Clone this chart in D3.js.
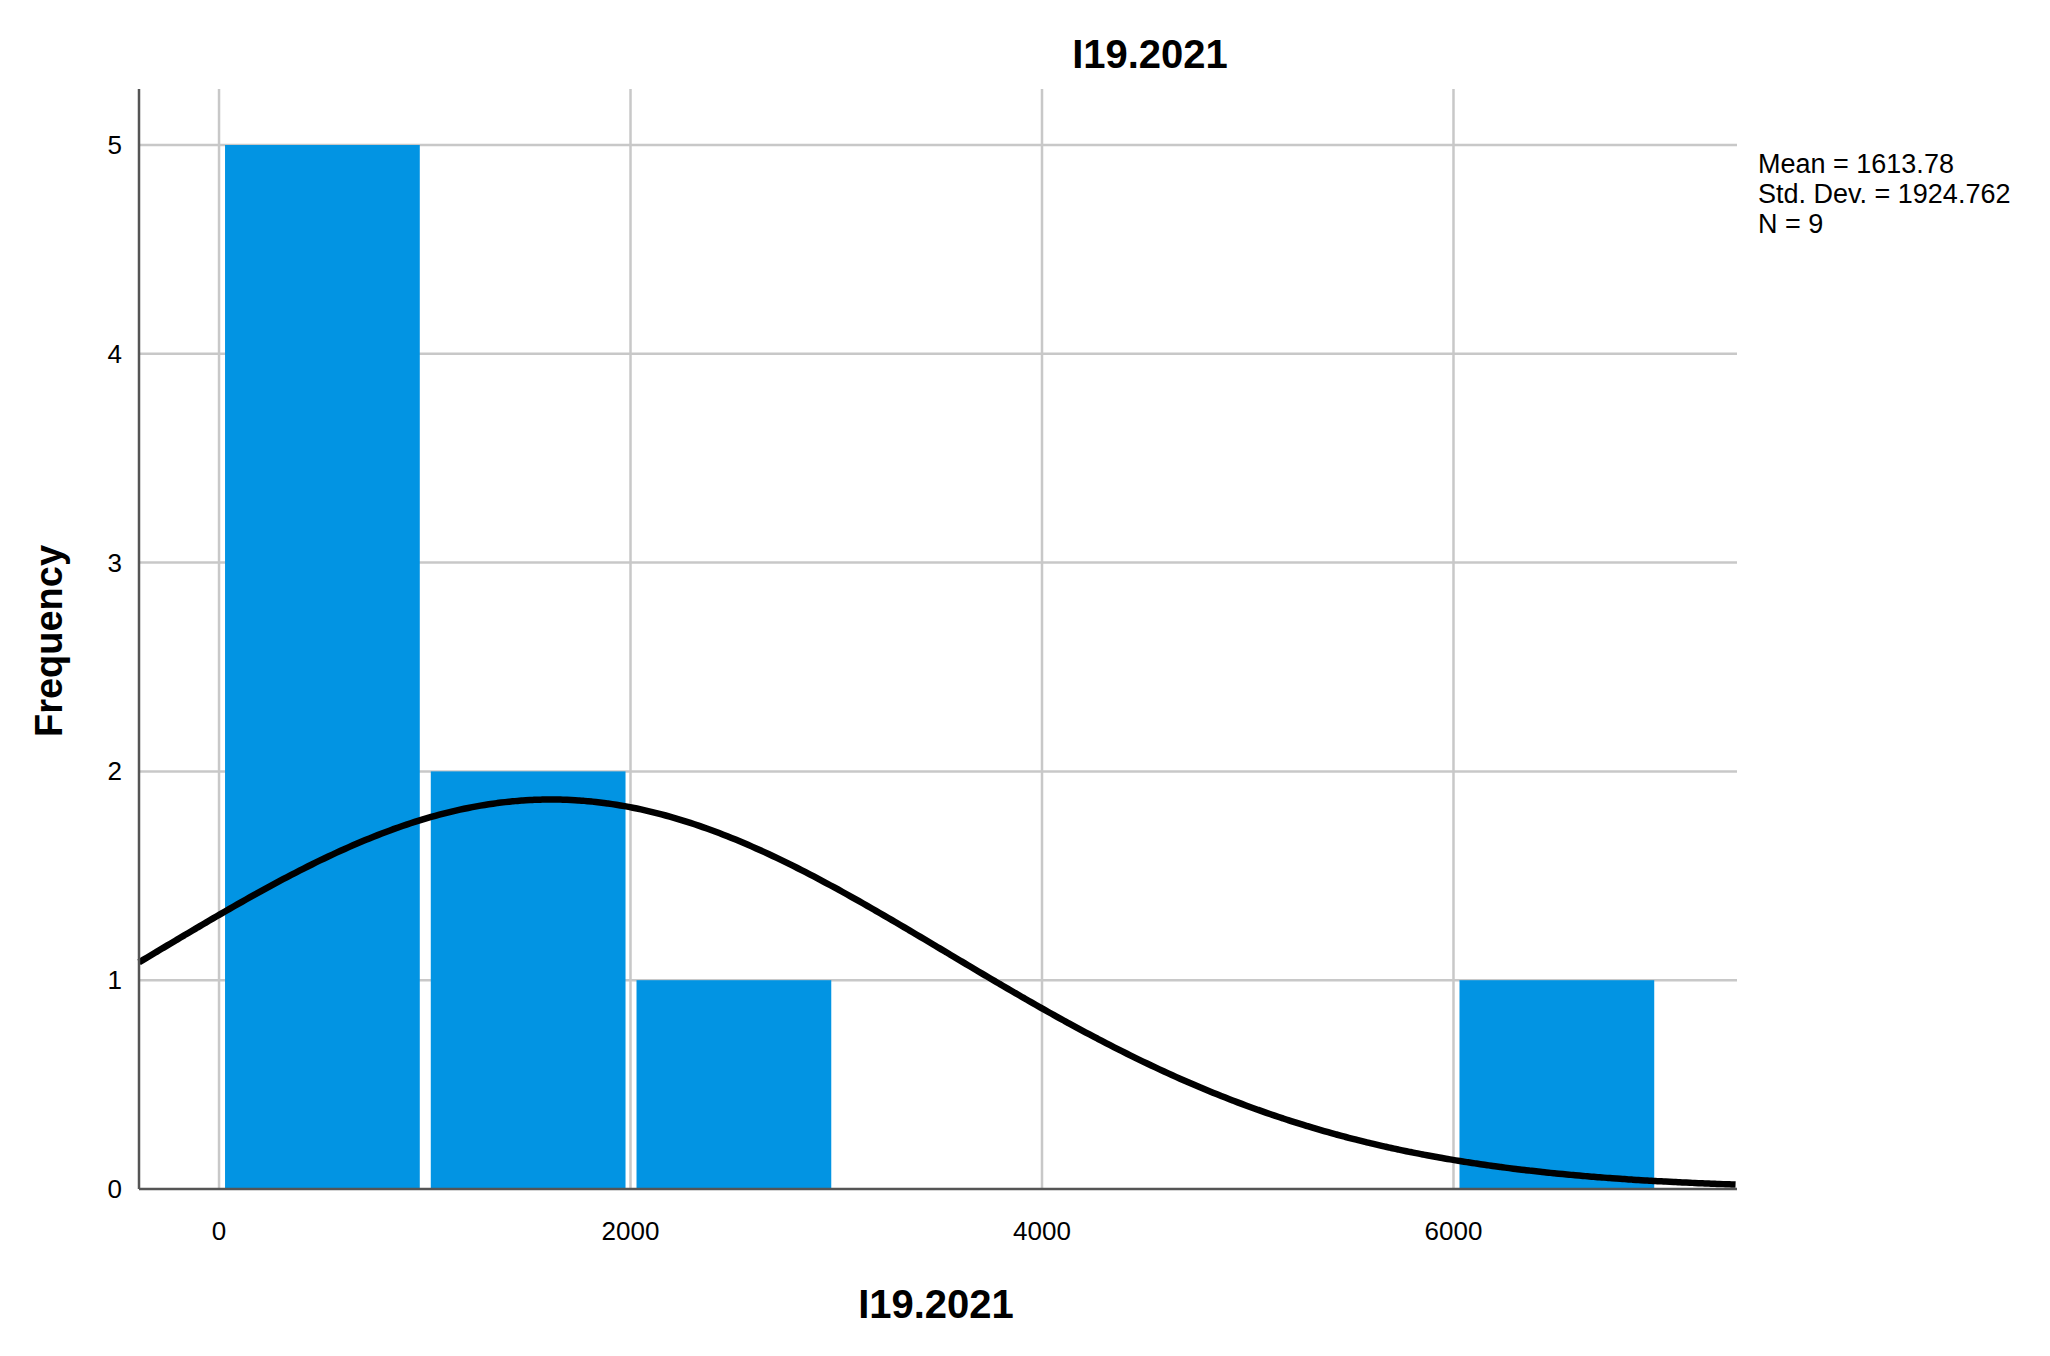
<!DOCTYPE html>
<html><head><meta charset="utf-8">
<script src="https://cdn.jsdelivr.net/npm/d3@7"></script>
<style>body{margin:0;background:#fff}</style></head>
<body><svg id="c" width="2050" height="1356"></svg>
<script>
const binStarts = [0, 1000, 2000, 6000];
const binCounts = [5, 2, 1, 1];
const binWidth = 1000;
const xTicks = [0, 2000, 4000, 6000];
const yTicks = [0, 1, 2, 3, 4, 5];
const mean = 1613.78, sd = 1924.762, n = 9;
const statLines = ["Mean = 1613.78", "Std. Dev. = 1924.762", "N = 9"];

const svg = d3.select("#c");
const L = 139, R = 1737, T = 89, B = 1189;
const x = d3.scaleLinear().domain([-389, 7378]).range([L, R]);
const y = d3.scaleLinear().domain([0, 5]).range([B, 145]);
const font = "Liberation Sans, Arial, sans-serif";

// grid
svg.append("g").selectAll("line").data(yTicks.slice(1)).join("line")
  .attr("x1", L).attr("x2", R).attr("y1", d => y(d)).attr("y2", d => y(d))
  .attr("stroke", "#c8c8c8").attr("stroke-width", 2.5);
svg.append("g").selectAll("line").data(xTicks).join("line")
  .attr("x1", d => x(d)).attr("x2", d => x(d)).attr("y1", T).attr("y2", B)
  .attr("stroke", "#c8c8c8").attr("stroke-width", 2.5);

// bars
svg.append("g").selectAll("rect").data(binStarts).join("rect")
  .attr("x", (d) => x(d) + 6)
  .attr("width", d => x(d + binWidth) - x(d) - 11)
  .attr("y", (d, i) => y(binCounts[i]))
  .attr("height", (d, i) => B - y(binCounts[i]))
  .attr("fill", "#0294e3");

// normal curve
const xs = d3.range(-389, 7379, 20);
const pdf = v => n * binWidth / (sd * Math.sqrt(2 * Math.PI)) * Math.exp(-0.5 * ((v - mean) / sd) ** 2);
svg.append("path").datum(xs)
  .attr("d", d3.line().x(d => x(d)).y(d => y(pdf(d))).curve(d3.curveBasis))
  .attr("fill", "none").attr("stroke", "#000").attr("stroke-width", 6.5);

// axes lines
svg.append("line").attr("x1", L).attr("x2", L).attr("y1", T).attr("y2", B).attr("stroke", "#555").attr("stroke-width", 2.5);
svg.append("line").attr("x1", L).attr("x2", R).attr("y1", B).attr("y2", B).attr("stroke", "#555").attr("stroke-width", 2.5);

// tick labels
svg.append("g").selectAll("text").data(yTicks).join("text")
  .attr("x", 122).attr("y", d => y(d) + 9).attr("text-anchor", "end")
  .attr("font-family", font).attr("font-size", 26).text(d => d);
svg.append("g").selectAll("text").data(xTicks).join("text")
  .attr("x", d => x(d)).attr("y", 1240).attr("text-anchor", "middle")
  .attr("font-family", font).attr("font-size", 26).text(d => d);

// titles
svg.append("text").attr("x", 1150).attr("y", 68).attr("text-anchor", "middle")
  .attr("font-family", font).attr("font-weight", "bold").attr("font-size", 40).text("I19.2021");
svg.append("text").attr("x", 936).attr("y", 1318).attr("text-anchor", "middle")
  .attr("font-family", font).attr("font-weight", "bold").attr("font-size", 40).text("I19.2021");
svg.append("text").attr("transform", "translate(62,641) rotate(-90)").attr("text-anchor", "middle")
  .attr("font-family", font).attr("font-weight", "bold").attr("font-size", 38).text("Frequency");

// stats
svg.append("g").selectAll("text").data(statLines).join("text")
  .attr("x", 1758).attr("y", (d, i) => 173 + i * 30)
  .attr("font-family", font).attr("font-size", 27).text(d => d);
</script></body></html>
